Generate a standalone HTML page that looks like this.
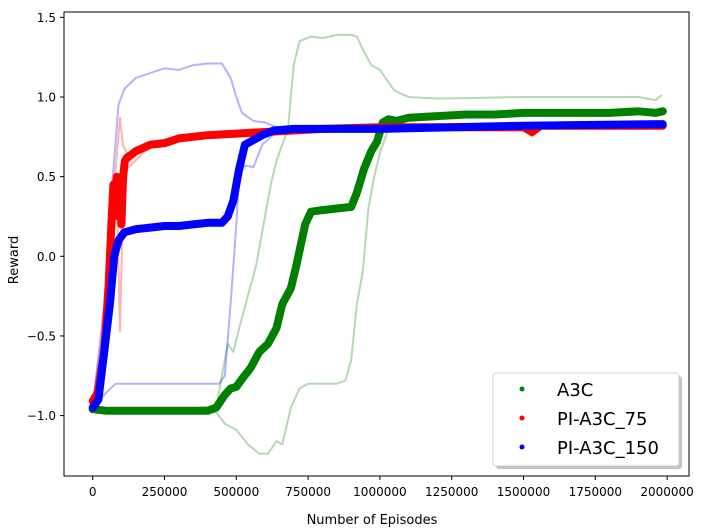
<!DOCTYPE html>
<html><head><meta charset="utf-8"><style>
html,body{margin:0;padding:0;background:#fff;}
svg{display:block;font-family:"DejaVu Sans","Liberation Sans",sans-serif;}
</style></head><body>
<svg id="chart" width="703" height="530" viewBox="0 0 703 530" xmlns="http://www.w3.org/2000/svg">
<rect x="0" y="0" width="703" height="530" fill="#fff"/>
<g id="bands"></g>
<g id="means"></g>
<rect x="64" y="12" width="625" height="464" fill="none" stroke="#000" stroke-width="1"/>
<g id="xticks"></g>
<g id="yticks"></g>
<text x="372" y="524" font-size="13" text-anchor="middle">Number of Episodes</text>
<text x="18" y="260" font-size="13" text-anchor="middle" transform="rotate(-90 18 260)">Reward</text>
<g>
<rect x="496" y="376" width="186" height="93" rx="3" fill="#999" opacity="0.6"/>
<rect x="493" y="373" width="186" height="93" rx="3" fill="#fff" stroke="#ccc"/>
<g><circle cx="522" cy="389" r="2.5" fill="green"/><text x="557" y="396" font-size="18">A3C</text></g>
<g><circle cx="522" cy="418" r="2.5" fill="red"/><text x="557" y="425" font-size="18">PI-A3C_75</text></g>
<g><circle cx="522" cy="447" r="2.5" fill="blue"/><text x="557" y="454" font-size="18">PI-A3C_150</text></g>
</g>
</svg>
<script>
// episodes in thousands
const a3cX = [0,50,100,200,300,400,430,460,480,500,520,550,580,610,640,660,690,710,740,760,800,850,900,920,945,970,990,1010,1030,1060,1100,1200,1300,1400,1500,1600,1700,1800,1900,1960,1985];
const a3cY = [-0.96,-0.97,-0.97,-0.97,-0.97,-0.97,-0.95,-0.87,-0.83,-0.82,-0.77,-0.70,-0.60,-0.55,-0.45,-0.30,-0.20,-0.05,0.20,0.28,0.29,0.30,0.31,0.40,0.55,0.66,0.72,0.84,0.86,0.85,0.87,0.88,0.89,0.89,0.90,0.90,0.90,0.90,0.91,0.90,0.91];
const a3cUpX = [0,430,450,470,490,510,540,570,590,620,640,680,700,720,760,800,850,900,920,940,970,1000,1050,1100,1200,1500,1900,1960,1980];
const a3cUpY = [-0.96,-0.95,-0.75,-0.55,-0.60,-0.45,-0.25,-0.05,0.15,0.45,0.60,0.80,1.20,1.35,1.38,1.37,1.39,1.39,1.38,1.30,1.20,1.17,1.04,1.00,0.99,1.00,1.00,0.98,1.01];
const a3cLoX = [0,430,460,500,540,580,610,640,660,690,720,750,800,850,880,900,920,940,960,980,1000,1030,1060,1100,1200,1500,1980];
const a3cLoY = [-0.96,-0.98,-1.05,-1.09,-1.18,-1.24,-1.24,-1.16,-1.18,-0.95,-0.83,-0.80,-0.80,-0.80,-0.78,-0.65,-0.30,-0.10,0.30,0.50,0.65,0.80,0.79,0.82,0.83,0.83,0.83];
const p75X = [0,20,40,55,65,72,78,84,90,96,100,106,112,120,150,200,250,300,400,500,600,700,800,1000,1500,1530,1560,1985];
const p75Y = [-0.91,-0.85,-0.60,-0.20,0.20,0.45,0.30,0.50,0.25,0.40,0.20,0.50,0.60,0.62,0.66,0.70,0.71,0.74,0.76,0.77,0.78,0.79,0.80,0.81,0.81,0.78,0.82,0.82];
const p75UpX = [0,40,60,80,95,105,130,200,400,800,1985];
const p75UpY = [-0.91,-0.50,0.35,0.55,0.87,0.70,0.60,0.72,0.77,0.81,0.83];
const p75LoX = [0,50,70,85,95,105,120,200,400,800,1500,1530,1560,1985];
const p75LoY = [-0.91,-0.30,0.40,0.30,-0.47,0.30,0.55,0.69,0.75,0.79,0.80,0.75,0.81,0.81];
const p150X = [0,20,40,60,75,90,110,150,200,250,300,350,400,450,470,490,510,530,560,590,630,700,800,1000,1500,1985];
const p150Y = [-0.95,-0.90,-0.60,-0.30,0.00,0.10,0.15,0.17,0.18,0.19,0.19,0.20,0.21,0.21,0.25,0.35,0.55,0.70,0.73,0.76,0.79,0.80,0.80,0.80,0.82,0.83];
const p150UpX = [0,40,70,90,110,150,200,250,300,350,400,450,480,500,520,560,600,640,700,1985];
const p150UpY = [-0.95,-0.30,0.50,0.95,1.05,1.12,1.15,1.18,1.17,1.20,1.21,1.21,1.12,1.00,0.90,0.85,0.84,0.81,0.80,0.84];
const p150LoX = [0,50,80,200,300,400,440,460,480,500,510,530,560,590,640,700,1985];
const p150LoY = [-0.95,-0.85,-0.80,-0.80,-0.80,-0.80,-0.80,-0.75,-0.30,0.20,0.50,0.57,0.56,0.70,0.78,0.80,0.82];
const xTicks = [0,250000,500000,750000,1000000,1250000,1500000,1750000,2000000];
const yTicks = [-1.0,-0.5,0.0,0.5,1.0,1.5];

const NS = "http://www.w3.org/2000/svg";
function sx(k){ return 92.7 + k*1000*(71.8/250000); }
function sy(v){ return 256.3 - v*159.3; }
function pts(xs,ys){ return xs.map((x,i)=>sx(x).toFixed(1)+","+sy(ys[i]).toFixed(1)).join(" "); }
function line(g,xs,ys,color,w,op,name){
  const p=document.createElementNS(NS,"polyline");
  p.setAttribute("points",pts(xs,ys));
  p.setAttribute("fill","none");
  p.setAttribute("stroke",color);
  p.setAttribute("stroke-width",w);
  p.setAttribute("stroke-opacity",op);
  p.setAttribute("stroke-linejoin","round");
  p.setAttribute("stroke-linecap","round");
  
  
  g.appendChild(p);
}
const bands=document.getElementById("bands"), means=document.getElementById("means");
line(bands,a3cUpX,a3cUpY,"green",2,0.3,"a3c-upper-band");
line(bands,a3cLoX,a3cLoY,"green",2,0.3,"a3c-lower-band");
line(bands,p75UpX,p75UpY,"red",2,0.3,"pi-a3c-75-upper-band");
line(bands,p75LoX,p75LoY,"red",2,0.3,"pi-a3c-75-lower-band");
line(bands,p150UpX,p150UpY,"blue",2,0.3,"pi-a3c-150-upper-band");
line(bands,p150LoX,p150LoY,"blue",2,0.3,"pi-a3c-150-lower-band");
line(means,a3cX,a3cY,"green",8,1,"a3c-mean-line");
line(means,p75X,p75Y,"red",8,1,"pi-a3c-75-mean-line");
line(means,p150X,p150Y,"blue",8,1,"pi-a3c-150-mean-line");

const xg=document.getElementById("xticks");
xTicks.forEach(t=>{
  const x=sx(t/1000);
  const l=document.createElementNS(NS,"line");
  l.setAttribute("x1",x);l.setAttribute("x2",x);l.setAttribute("y1",476);l.setAttribute("y2",480);l.setAttribute("stroke","#000");
  
  
  xg.appendChild(l);
  const tx=document.createElementNS(NS,"text");
  tx.setAttribute("x",x);tx.setAttribute("y",496);tx.setAttribute("font-size","12");tx.setAttribute("text-anchor","middle");
  tx.textContent=String(t);
  
  
  xg.appendChild(tx);
});
const yg=document.getElementById("yticks");
yTicks.forEach(t=>{
  const y=sy(t);
  const l=document.createElementNS(NS,"line");
  l.setAttribute("x1",60);l.setAttribute("x2",64);l.setAttribute("y1",y);l.setAttribute("y2",y);l.setAttribute("stroke","#000");
  
  
  yg.appendChild(l);
  const tx=document.createElementNS(NS,"text");
  tx.setAttribute("x",56);tx.setAttribute("y",y+4.5);tx.setAttribute("font-size","12");tx.setAttribute("text-anchor","end");
  tx.textContent=(t<0?"\u2212":"")+Math.abs(t).toFixed(1);
  
  
  yg.appendChild(tx);
});
</script>
</body></html>
